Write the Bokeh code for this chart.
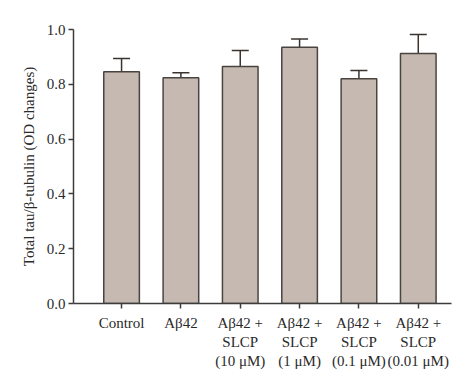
from bokeh.plotting import figure
from bokeh.models import FixedTicker, Range1d, Whisker, ColumnDataSource
from bokeh.embed import file_html
from bokeh.resources import INLINE

categories = ["Control", "Aβ42", "Aβ42 +\nSLCP\n(10 μM)", "Aβ42 +\nSLCP\n(1 μM)",
              "Aβ42 +\nSLCP\n(0.1 μM)", "Aβ42 +\nSLCP\n(0.01 μM)"]
means = [0.846, 0.824, 0.865, 0.935, 0.820, 0.912]
errors = [0.048, 0.018, 0.058, 0.030, 0.030, 0.070]
y_ticks = [0.0, 0.2, 0.4, 0.6, 0.8, 1.0]

xs = list(range(1, len(categories) + 1))
src = ColumnDataSource(dict(x=xs, top=means, upper=[m + e for m, e in zip(means, errors)],
                            lower=means))

p = figure(width=458, height=371, output_backend="svg", toolbar_location=None,
           x_range=Range1d(0.19, 6.56), y_range=Range1d(0, 1.0),
           min_border_left=73, min_border_right=7, min_border_top=29, min_border_bottom=68)
p.outline_line_color = None
p.grid.visible = False
p.background_fill_color = "white"

p.vbar(x="x", top="top", width=0.6, bottom=0, source=src,
       fill_color="#c5b9b1", line_color="#4a4440", line_width=1.5)
w = Whisker(base="x", upper="upper", lower="lower", source=src,
            line_color="#3a3430", line_width=1.5)
w.upper_head.size = 17
w.upper_head.line_color = "#3a3430"
w.upper_head.line_width = 1.5
w.lower_head.size = 0
w.lower_head.line_alpha = 0
p.add_layout(w)

font = "Liberation Serif"
p.xaxis.ticker = FixedTicker(ticks=xs)
p.xaxis.major_label_overrides = {x: c for x, c in zip(xs, categories)}
p.yaxis.ticker = FixedTicker(ticks=y_ticks)
p.yaxis.major_label_overrides = {t: f"{t:.1f}" for t in y_ticks}
p.yaxis.axis_label = "Total tau/β-tubulin (OD changes)"
for ax in (p.xaxis, p.yaxis):
    ax.axis_line_color = "#3c3c3c"
    ax.axis_line_width = 1.5
    ax.major_tick_line_color = "#3c3c3c"
    ax.major_tick_line_width = 1.5
    ax.major_tick_out = 5
    ax.major_tick_in = 0
    ax.minor_tick_line_color = None
    ax.major_label_text_font = font
    ax.major_label_text_font_size = "15px"
    ax.major_label_text_color = "#2a2a2a"
    ax.axis_label_text_font = font
    ax.axis_label_text_font_size = "15px"
    ax.axis_label_text_font_style = "normal"
    ax.axis_label_text_color = "#2a2a2a"
p.xaxis.major_label_standoff = 6
p.yaxis.major_label_standoff = 3
p.yaxis.axis_label_standoff = 7

open("out.html", "w").write(file_html(p, INLINE))
